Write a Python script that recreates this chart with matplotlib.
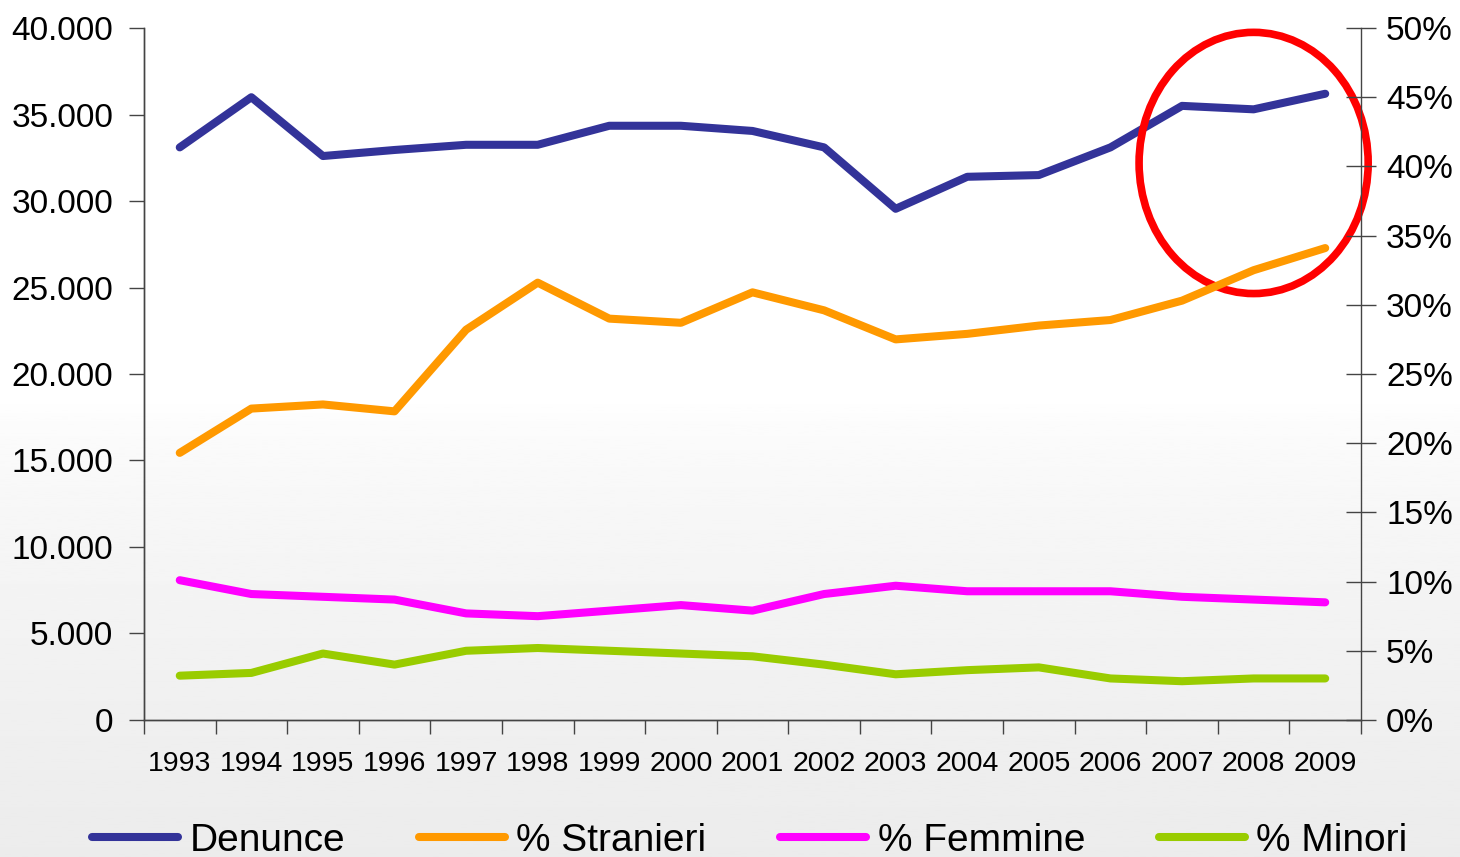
import numpy as np
import matplotlib
matplotlib.use("Agg")
import matplotlib.pyplot as plt
from matplotlib.patches import Ellipse
from matplotlib.ticker import FuncFormatter, FixedLocator

plt.rcParams['font.family'] = ['Liberation Sans', 'DejaVu Sans']

# Data
years = ["1993", "1994", "1995", "1996", "1997", "1998", "1999", "2000", "2001",
         "2002", "2003", "2004", "2005", "2006", "2007", "2008", "2009"]
denunce = [33100, 36000, 32600, 32950, 33250, 33250, 34350, 34350, 34050,
           33100, 29550, 31400, 31500, 33100, 35500, 35300, 36200]
stranieri = [19.3, 22.5, 22.8, 22.3, 28.2, 31.6, 29.0, 28.7, 30.9,
             29.6, 27.5, 27.9, 28.5, 28.9, 30.3, 32.5, 34.1]
femmine = [10.1, 9.1, 8.9, 8.7, 7.7, 7.5, 7.9, 8.3, 7.9,
           9.1, 9.7, 9.3, 9.3, 9.3, 8.9, 8.7, 8.5]
minori = [3.2, 3.4, 4.8, 4.0, 5.0, 5.2, 5.0, 4.8, 4.6,
          4.0, 3.3, 3.6, 3.8, 3.0, 2.8, 3.0, 3.0]

fig = plt.figure(figsize=(14.6, 8.57), dpi=100)

# soft grey gradient in the lower part of the slide
bg = fig.add_axes([0, 0, 1, 1], zorder=-10)
grad = np.ones((300, 1))
ys = np.linspace(0, 1, 300)
grad[:, 0] = np.where(ys < 0.47, 1.0, 1.0 - 0.075 * np.clip((ys - 0.47) / 0.53, 0, 1) ** 0.6)
bg.imshow(grad, aspect='auto', cmap='gray', vmin=0, vmax=1, extent=[0, 1, 0, 1], origin='upper')
bg.axis('off')

ax = fig.add_axes([0.0986, 0.1599, 0.8336, 0.8074])
ax.patch.set_alpha(0)
ax2 = ax.twinx()

x = np.arange(len(years))
lw = 5.8
ln1, = ax.plot(x, denunce, color='#333399', lw=lw, solid_capstyle='round', label='Denunce')
ln2, = ax2.plot(x, stranieri, color='#FF9900', lw=lw, solid_capstyle='round', label='% Stranieri')
ln3, = ax2.plot(x, femmine, color='#FF00FF', lw=lw, solid_capstyle='round', label='% Femmine')
ln4, = ax2.plot(x, minori, color='#99CC00', lw=lw, solid_capstyle='round', label='% Minori')

ax.set_xlim(-0.5, len(years) - 0.5)
ax.set_ylim(0, 40000)
ax2.set_ylim(0, 50)
ax.set_yticks(np.arange(0, 40001, 5000))
ax2.set_yticks(np.arange(0, 51, 5))
ax.yaxis.set_major_formatter(FuncFormatter(lambda v, p: f"{int(v):,}".replace(",", ".")))
ax2.yaxis.set_major_formatter(FuncFormatter(lambda v, p: f"{int(v)}%"))

ax.set_xticks(x)
ax.set_xticklabels(years)
ax.xaxis.set_minor_locator(FixedLocator(np.arange(-0.5, len(years), 1.0)))
ax.tick_params(axis='x', which='major', length=0, pad=22, labelsize=20.5)
ax.tick_params(axis='x', which='minor', length=10, width=1, color='#444444', direction='out')
ax.tick_params(axis='y', length=11, width=1, color='#444444', direction='out', pad=11, labelsize=24)
ax2.tick_params(axis='y', length=22, width=1, color='#444444', direction='inout', pad=7, labelsize=24)

for a in (ax, ax2):
    a.spines['top'].set_visible(False)
    for s in ('left', 'right', 'bottom'):
        a.spines[s].set_color('#444444')
        a.spines[s].set_linewidth(1)
ax.spines['right'].set_visible(False)

# red ellipse highlighting the last years
ell = Ellipse((15, 32200), width=3.2, height=15100, fill=False, edgecolor='#FF0000',
              lw=5.5, clip_on=False, zorder=5)
ax.add_patch(ell)

fig.legend(handles=[ln1, ln2, ln3, ln4], loc='center', bbox_to_anchor=(0.5137, 0.019),
           ncol=4, frameon=False, fontsize=28, handlelength=2.2, handletextpad=0.3,
           columnspacing=1.9)

fig.savefig("out.png", dpi=100)
